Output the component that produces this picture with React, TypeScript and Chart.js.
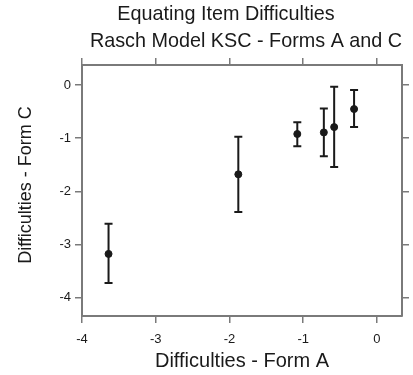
import React, { useEffect, useRef } from "react";
import { Chart, registerables } from "chart.js";

Chart.register(...registerables);

const titleLines = ["Equating Item Difficulties", "Rasch Model KSC - Forms A and C"];
const xLabel = "Difficulties - Form A";
const yLabel = "Difficulties - Form C";
const xTicks = [-4, -3, -2, -1, 0];
const yTicks = [0, -1, -2, -3, -4];
const formA = [-3.64, -1.88, -1.08, -0.72, -0.58, -0.31];
const formC = [-3.18, -1.68, -0.92, -0.89, -0.79, -0.45];
const errLow = [-3.73, -2.39, -1.15, -1.34, -1.54, -0.79];
const errHigh = [-2.61, -0.97, -0.7, -0.44, -0.03, -0.09];

const FONT = "'Liberation Sans', Arial, sans-serif";
const FRAME = "#7a7a7a";
const INK = "#1a1a1a";

export default function App() {
  const ref = useRef<HTMLCanvasElement | null>(null);
  useEffect(() => {
    document.body.style.margin = "0";
    const canvas = ref.current!;
    const fixTicks = (vals: number[]) => (scale: any) => {
      scale.ticks = vals.map((v) => ({ value: v }));
    };
    const grid = {
      drawOnChartArea: false,
      drawTicks: true,
      tickLength: 7,
      color: FRAME,
      lineWidth: 1.5,
    };
    const border = { display: true, color: FRAME, width: 2 };
    const tickFont = { family: FONT, size: 13 };

    const errorBars = {
      id: "errorBars",
      afterDatasetsDraw(chart: any) {
        const { ctx, scales } = chart;
        ctx.save();
        ctx.strokeStyle = INK;
        ctx.lineWidth = 2;
        for (let i = 0; i < formA.length; i++) {
          const px = scales.x.getPixelForValue(formA[i]);
          const top = scales.y.getPixelForValue(errHigh[i]);
          const bot = scales.y.getPixelForValue(errLow[i]);
          ctx.beginPath();
          ctx.moveTo(px, top);
          ctx.lineTo(px, bot);
          ctx.moveTo(px - 4, top);
          ctx.lineTo(px + 4, top);
          ctx.moveTo(px - 4, bot);
          ctx.lineTo(px + 4, bot);
          ctx.stroke();
        }
        ctx.restore();
      },
    };

    const texts = {
      id: "texts",
      afterDraw(chart: any) {
        const { ctx } = chart;
        ctx.save();
        ctx.fillStyle = INK;
        ctx.textAlign = "center";
        ctx.textBaseline = "alphabetic";
        ctx.font = `19.8px ${FONT}`;
        ctx.fillText(titleLines[0], 226, 19.5);
        ctx.fillText(titleLines[1], 246, 46.5);
        ctx.font = `20px ${FONT}`;
        ctx.fillText(xLabel, 242, 367);
        ctx.translate(30.5, 185);
        ctx.rotate(-Math.PI / 2);
        ctx.font = `18px ${FONT}`;
        ctx.fillText(yLabel, 0, 0);
        ctx.restore();
      },
    };

    const chart = new Chart(canvas, {
      type: "scatter",
      data: {
        datasets: [
          {
            data: formA.map((a, i) => ({ x: a, y: formC[i] })),
            backgroundColor: INK,
            borderColor: INK,
            pointRadius: 3.5,
            pointHoverRadius: 3.5,
          },
        ],
      },
      options: {
        animation: false,
        responsive: false,
        events: [],
        layout: { padding: 0 },
        plugins: { legend: { display: false }, tooltip: { enabled: false }, title: { display: false } },
        scales: {
          x: {
            type: "linear",
            position: "bottom",
            min: -4,
            max: 0.34,
            afterBuildTicks: fixTicks(xTicks),
            afterFit: (s: any) => { s.height = 59; },
            grid,
            border,
            ticks: { color: INK, font: tickFont, padding: 9, callback: (v: any) => String(v) },
          },
          x2: {
            type: "linear",
            position: "top",
            min: -4,
            max: 0.34,
            afterBuildTicks: fixTicks(xTicks),
            afterFit: (s: any) => { s.height = 65; },
            grid,
            border,
            ticks: { display: false },
          },
          y: {
            type: "linear",
            position: "left",
            min: -4.35,
            max: 0.38,
            afterBuildTicks: fixTicks(yTicks),
            afterFit: (s: any) => { s.width = 82; },
            grid,
            border,
            ticks: { color: INK, font: tickFont, padding: 4, callback: (v: any) => String(v) },
          },
          y2: {
            type: "linear",
            position: "right",
            min: -4.35,
            max: 0.38,
            afterBuildTicks: fixTicks(yTicks),
            afterFit: (s: any) => { s.width = 11; },
            grid,
            border,
            ticks: { display: false },
          },
        },
      },
      plugins: [errorBars, texts],
    });
    return () => chart.destroy();
  }, []);
  return <canvas ref={ref} width={413} height={375} style={{ display: "block" }} />;
}
